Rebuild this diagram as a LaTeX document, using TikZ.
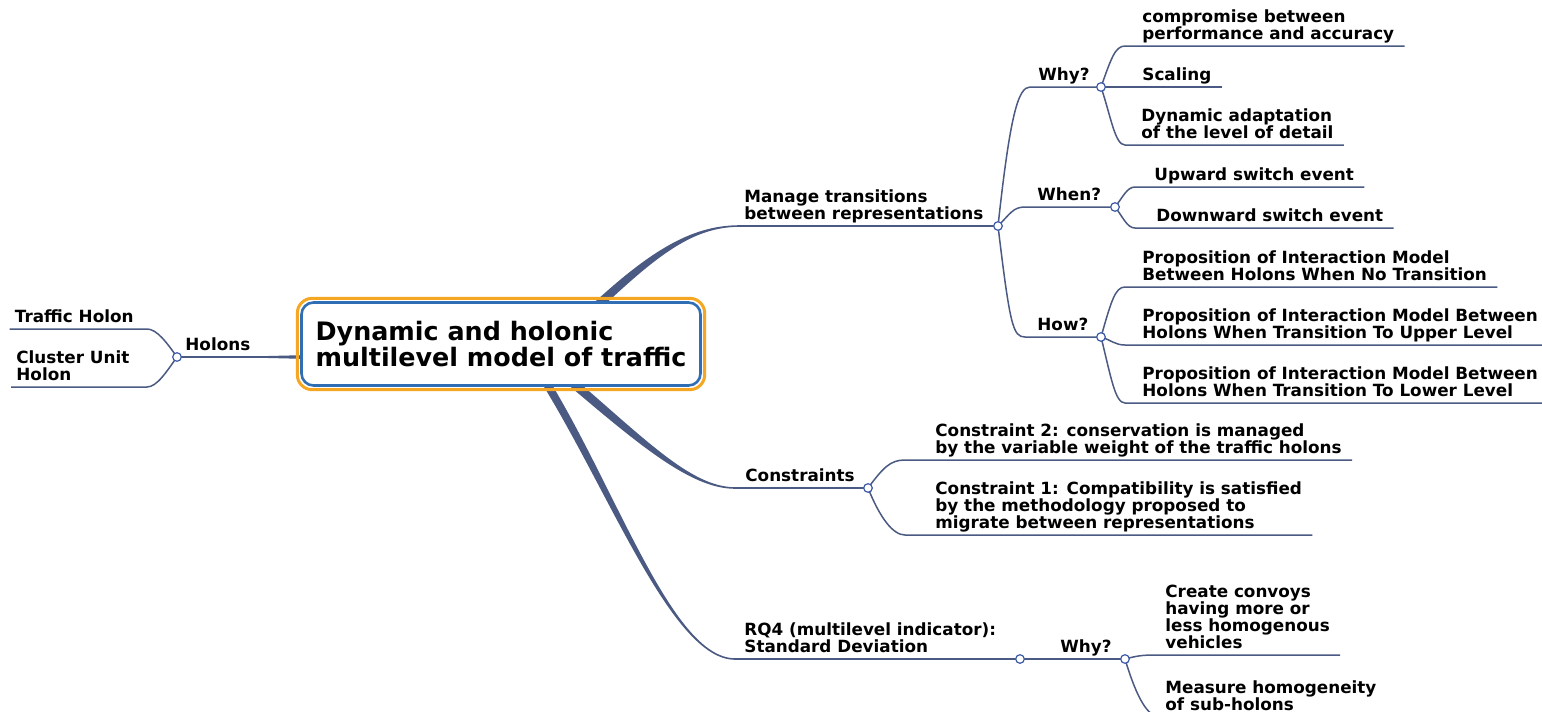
\documentclass[tikz,border=0pt]{standalone}
\usepackage{fontspec}
\setmainfont{DejaVu Sans}
\usepackage{xcolor}
\usepackage{tikz}
\usetikzlibrary{calc}
\pgfdeclarelayer{bg}
\pgfsetlayers{bg,main}
\definecolor{branch}{HTML}{4B5A82}
\definecolor{knob}{HTML}{3D5AA8}
\definecolor{ring}{HTML}{F5A623}
\definecolor{frame}{HTML}{2F6DB5}

\begin{document}
\begin{tikzpicture}[
  x=0.5pt,y=-0.5pt,
  font=\bfseries\fontsize{8.4pt}{8.6pt}\selectfont,
  conn/.style={draw=branch,line width=0.75pt},
  trunk/.style={fill=branch},
  dot/.style={circle,draw=knob,fill=white,line width=0.6pt,inner sep=0pt,minimum size=4.3pt},
  lbl/.style={inner xsep=2.5pt,inner ysep=0pt,text depth=2pt,align=left,anchor=south west},
  rootbox/.style={draw=frame,line width=1.3pt,fill=white,rounded corners=6pt,minimum width=199.5pt,minimum height=41.5pt,align=left,font=\bfseries\fontsize{12.7pt}{13pt}\selectfont}
]
\useasboundingbox (0,0) rectangle (1542,712);
\clip (0,0) rectangle (1542,712);

\node[rootbox] (root) at (501,344) {Dynamic and holonic\\multilevel model of traffic};
\draw[draw=ring,line width=1.5pt,rounded corners=7.5pt] ([shift={(-1.45pt,-1.45pt)}]root.south west) rectangle ([shift={(1.45pt,1.45pt)}]root.north east);

\node[dot] (holonsD) at (177,357) {};
\node[dot] (manageD) at (998,226) {};
\node[dot] (why1D) at (1101,87) {};
\node[dot] (whenD) at (1115,207) {};
\node[dot] (howD) at (1101,337) {};
\node[dot] (consD) at (868,488) {};
\node[dot] (rq4D) at (1020,659) {};
\node[dot] (why2D) at (1125,659) {};

\coordinate (holons-s) at (300,357);
\coordinate (traffic-s) at (147,329);
\coordinate (cluster-s) at (147,387);
\coordinate (manage-s) at (740,226);
\coordinate (why1-s) at (1030,87);
\coordinate (when-s) at (1025,207);
\coordinate (how-s) at (1025,337);
\coordinate (comp-s) at (1125,46);
\coordinate (dyn-s) at (1125,145);
\coordinate (up-s) at (1135,187);
\coordinate (down-s) at (1135,228);
\coordinate (p1-s) at (1125,287);
\coordinate (p2-s) at (1125,345);
\coordinate (p3-s) at (1125,403);
\coordinate (cons-s) at (735,488);
\coordinate (c2-s) at (905,460);
\coordinate (c1-s) at (905,535);
\coordinate (rq4-s) at (735,659);
\coordinate (conv-s) at (1160,655);
\coordinate (meas-s) at (1160,717);

\node[lbl,anchor=south east] (traffic) at (139,327) {Traffic Holon};
\node[lbl] (cluster) at (11,385) {Cluster Unit\\Holon};
\node[lbl] (holons) at (180,355) {Holons};
\node[lbl] (manage) at (739,224) {Manage transitions\\between representations};
\node[lbl] (why1) at (1033,85) {Why?};
\node[lbl] (when) at (1032,205) {When?};
\node[lbl] (how) at (1032,335) {How?};
\node[lbl] (comp) at (1137,44) {compromise between\\performance and accuracy};
\node[lbl] (scal) at (1137,85) {Scaling};
\node[lbl] (dyn) at (1136,143) {Dynamic adaptation\\of the level of detail};
\node[lbl] (up) at (1149,185) {Upward switch event};
\node[lbl] (down) at (1151,226) {Downward switch event};
\node[lbl] (p1) at (1137,285) {Proposition of Interaction Model\\Between Holons When No Transition};
\node[lbl] (p2) at (1137,343) {Proposition of Interaction Model Between\\Holons When Transition To Upper Level};
\node[lbl] (p3) at (1137,401) {Proposition of Interaction Model Between\\Holons When Transition To Lower Level};
\node[lbl] (cons) at (740,486) {Constraints};
\node[lbl] (c2) at (930,458) {Constraint 2: conservation is managed\\by the variable weight of the traffic holons};
\node[lbl] (c1) at (930,533) {Constraint 1: Compatibility is satisfied\\by the methodology proposed to\\migrate between representations};
\node[lbl] (rq4) at (739,657) {RQ4 (multilevel indicator):\\Standard Deviation};
\node[lbl] (why2) at (1055,657) {Why?};
\node[lbl] (conv) at (1160,653) {Create convoys\\having more or\\less homogenous\\vehicles};
\node[lbl] (meas) at (1160,715) {Measure homogeneity\\of sub-holons};

\begin{pgfonlayer}{bg}
\fill[white] (0,0) rectangle (1542,712);
\fill[trunk] (576.9,318.8) .. controls (646.9,251.8) and (690,225.2) .. ($(manage-s)+(0,-0.8)$) -- ($(manage-s)+(0,0.8)$) .. controls (690,226.8) and (653.1,258.2) .. (583.1,325.2) -- cycle;
\fill[trunk] (557.1,375.4) .. controls (637.1,443.4) and (690,488.8) .. ($(cons-s)+(0,0.8)$) -- ($(cons-s)+(0,-0.8)$) .. controls (690,487.2) and (642.9,436.6) .. (562.9,368.6) -- cycle;
\fill[trunk] (531.65,367.2) .. controls (606.65,482.2) and (670,659.8) .. ($(rq4-s)+(0,0.8)$) -- ($(rq4-s)+(0,-0.8)$) .. controls (670,658.2) and (613.35,477.8) .. (538.35,362.8) -- cycle;
\fill[trunk] ($(holons-s)+(10,-2)$) -- ($(holons-s)+(-40,-0.8)$) -- ($(holons-s)+(-40,0.8)$) -- ($(holons-s)+(10,2)$) -- cycle;
\draw[conn] (holons-s) -- (holonsD.center);
\draw[conn] (holonsD.center) .. controls +(-10,-14) and +(10,0) .. (traffic-s) -- (traffic.west |- traffic-s);
\draw[conn] (holonsD.center) .. controls +(-10,14) and +(10,0) .. (cluster-s) -- (cluster.west |- cluster-s);
\draw[conn] (manage-s) -- (manageD.center);
\draw[conn] (manageD.center) .. controls +(12,-110) and +(-12,0) .. (why1-s) -- (why1D.center);
\draw[conn] (manageD.center) .. controls +(12,-12) and +(-12,0) .. (when-s) -- (whenD.center);
\draw[conn] (manageD.center) .. controls +(12,100) and +(-12,0) .. (how-s) -- (howD.center);
\draw[conn] (why1D.center) .. controls +(10,-28) and +(-10,0) .. (comp-s) -- ($(comp.east |- comp-s)+(5,0)$);
\draw[conn] (why1D.center) -- ($(why1D.center -| scal.east)+(5,0)$);
\draw[conn] (why1D.center) .. controls +(10,30) and +(-10,0) .. (dyn-s) -- ($(dyn.east |- dyn-s)+(5,0)$);
\draw[conn] (whenD.center) .. controls +(8,-10) and +(-8,0) .. (up-s) -- ($(up.east |- up-s)+(5,0)$);
\draw[conn] (whenD.center) .. controls +(8,10) and +(-8,0) .. (down-s) -- ($(down.east |- down-s)+(5,0)$);
\draw[conn] (howD.center) .. controls +(10,-35) and +(-10,0) .. (p1-s) -- ($(p1.east |- p1-s)+(5,0)$);
\draw[conn] (howD.center) .. controls +(10,3) and +(-10,0) .. (p2-s) -- ($(p2.east |- p2-s)+(5,0)$);
\draw[conn] (howD.center) .. controls +(10,40) and +(-10,0) .. (p3-s) -- ($(p3.east |- p3-s)+(5,0)$);
\draw[conn] (cons-s) -- (consD.center);
\draw[conn] (consD.center) .. controls +(15,-20) and +(-15,0) .. (c2-s) -- ($(c2.east |- c2-s)+(5,0)$);
\draw[conn] (consD.center) .. controls +(12,30) and +(-12,0) .. (c1-s) -- ($(c1.east |- c1-s)+(5,0)$);
\draw[conn] (rq4-s) -- (rq4D.center) -- (why2D.center);
\draw[conn] (why2D.center) .. controls +(15,-4) and +(-15,0) .. (conv-s) -- ($(conv.east |- conv-s)+(5,0)$);
\draw[conn] (why2D.center) .. controls +(12,40) and +(-12,0) .. (meas-s) -- ($(meas.east |- meas-s)+(5,0)$);
\end{pgfonlayer}
\end{tikzpicture}
\end{document}
